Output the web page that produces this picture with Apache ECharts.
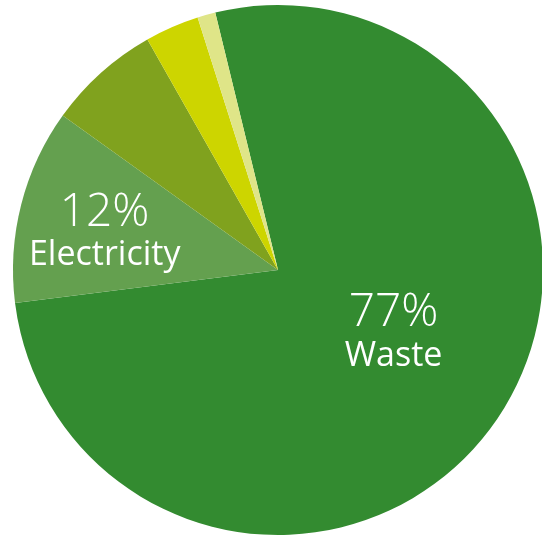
<!DOCTYPE html>
<html>
<head>
<meta charset="utf-8">
<script src="https://cdn.jsdelivr.net/npm/echarts@6/dist/echarts.min.js"></script>
<style>
html,body{margin:0;padding:0;background:#fff;}
#c{width:542px;height:540px;}
</style>
</head>
<body>
<div id="c"></div>
<script>
const categories = ['Waste', 'Electricity', 'Fuel', 'Water', 'Other'];
const values = [76.9, 11.9, 6.9, 3.3, 1.1];
const colors = ['#338B30', '#64A04F', '#80A21E', '#CDD500', '#DFE588'];
const labelled = [true, true, false, false, false];
const labelOffsets = [[4, -15], [-42, -5], [0, 0], [0, 0], [0, 0]];

const chart = echarts.init(document.getElementById('c'), null, {renderer: 'canvas'});
const data = categories.map((name, i) => ({
  name: name,
  value: values[i],
  itemStyle: {color: colors[i]},
  label: {show: labelled[i], offset: labelOffsets[i]}
}));
chart.setOption({
  animation: false,
  series: [{
    type: 'pie',
    center: [278, 270],
    radius: [0, 265],
    startAngle: 103.7,
    clockwise: true,
    avoidLabelOverlap: false,
    itemStyle: {borderWidth: 0},
    emphasis: {disabled: true},
    labelLine: {show: false},
    label: {
      position: 'inside',
      color: '#fff',
      formatter: p => '{p|' + Math.round(p.value) + '%}\n{n|' + p.name + '}',
      rich: {
        p: {fontFamily: 'Open Sans', fontWeight: 300, fontSize: 46, color: '#fff', lineHeight: 48, align: 'center'},
        n: {fontFamily: 'Open Sans', fontWeight: 400, fontSize: 34, color: '#fff', lineHeight: 38, align: 'center'}
      }
    },
    data: data
  }]
});
</script>
</body>
</html>
